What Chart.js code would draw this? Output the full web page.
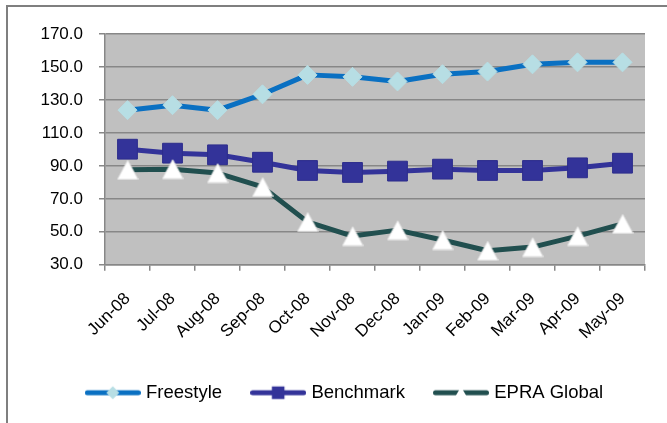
<!DOCTYPE html>
<html><head><meta charset="utf-8">
<script src="https://cdn.jsdelivr.net/npm/chart.js@4/dist/chart.umd.min.js"></script>
<style>html,body{margin:0;padding:0;background:#fff;overflow:hidden}</style>
</head><body>
<canvas id="c" width="667" height="423" style="display:block"></canvas>
<script>
const categories = ["Jun-08","Jul-08","Aug-08","Sep-08","Oct-08","Nov-08","Dec-08","Jan-09","Feb-09","Mar-09","Apr-09","May-09"];
const freestyle = [123.8, 126.8, 123.8, 133.4, 145.2, 144.0, 141.2, 145.6, 147.2, 151.6, 152.8, 152.8];
const benchmark = [100.1, 97.7, 96.7, 92.2, 87.2, 86.0, 86.8, 88.0, 87.2, 87.2, 88.8, 91.6];
const epraGlobal = [87.6, 88.0, 85.6, 77.2, 56.0, 47.4, 51.0, 45.0, 38.5, 40.7, 47.4, 54.8];
const seriesNames = ["Freestyle", "Benchmark", "EPRA Global"];
const yMin = 30, yMax = 170, yStep = 20;

const FONT = "'Liberation Sans', Arial, sans-serif";
const C_FREE = '#0a70c2', C_FREE_PT = '#b7dee4';
const C_BENCH = '#333399', C_BENCH_PT = '#333399';
const C_EPRA = '#214f4f';

function triangleImg(w, h, stroke) {
  const cv = document.createElement('canvas');
  cv.width = w + 2; cv.height = h + 2;
  const g = cv.getContext('2d');
  g.beginPath();
  g.moveTo(1 + w / 2, 1); g.lineTo(1 + w, 1 + h); g.lineTo(1, 1 + h); g.closePath();
  g.fillStyle = '#ffffff'; g.fill();
  if (stroke) { g.strokeStyle = stroke; g.lineWidth = 1; g.stroke(); }
  return cv;
}
const triPoint = triangleImg(20.5, 19, '#e2e2e2');

function legendImg(kind) {
  const w = 56, h = 22;
  const cv = document.createElement('canvas');
  cv.width = w; cv.height = h;
  const g = cv.getContext('2d');
  const cy = h / 2, cx = w / 2;
  g.lineCap = 'round';
  g.lineWidth = 5;
  g.strokeStyle = kind === 0 ? C_FREE : kind === 1 ? C_BENCH : C_EPRA;
  g.beginPath(); g.moveTo(2.5, cy); g.lineTo(w - 2.5, cy); g.stroke();
  g.beginPath();
  if (kind === 0) {
    const r = 6.5;
    g.moveTo(cx - r, cy); g.lineTo(cx, cy - r); g.lineTo(cx + r, cy); g.lineTo(cx, cy + r); g.closePath();
    g.fillStyle = C_FREE_PT; g.fill();
  } else if (kind === 1) {
    const s = 6.3;
    g.rect(cx - s, cy - s, 2 * s, 2 * s);
    g.fillStyle = C_BENCH_PT; g.fill();
  } else {
    const tw = 14, th = 12;
    g.moveTo(cx, cy - th / 2); g.lineTo(cx + tw / 2, cy + th / 2); g.lineTo(cx - tw / 2, cy + th / 2);
    g.closePath();
    g.fillStyle = '#ffffff'; g.fill();
  }
  return cv;
}
const legendImgs = [legendImg(0), legendImg(1), legendImg(2)];

const legendShift = 9.5;
const decor = {
  id: 'decor',
  afterLayout(chart) {
    if (chart.legend) { chart.legend.left += legendShift; chart.legend.right += legendShift; }
  },
  beforeDraw(chart) {
    const {ctx, chartArea: a} = chart;
    ctx.save();
    ctx.fillStyle = '#c0c0c0';
    ctx.fillRect(a.left, a.top, a.right - a.left, a.bottom - a.top);
    ctx.strokeStyle = '#7f7f7f';
    ctx.lineWidth = 2;
    ctx.beginPath();
    ctx.moveTo(7, 423); ctx.lineTo(7, 6); ctx.lineTo(667, 6);
    ctx.stroke();
    ctx.restore();
  }
};

const padL = 28, padR = 22;
new Chart(document.getElementById('c'), {
  type: 'line',
  data: {
    labels: categories,
    datasets: [
      { label: seriesNames[0], data: freestyle, order: 2,
        borderColor: C_FREE, borderWidth: 5, borderJoinStyle: 'round',
        pointStyle: 'rectRot', pointRadius: 9.5, pointBackgroundColor: C_FREE_PT, pointBorderColor: C_FREE_PT, pointBorderWidth: 1 },
      { label: seriesNames[1], data: benchmark, order: 1,
        borderColor: C_BENCH, borderWidth: 5, borderJoinStyle: 'round',
        pointStyle: 'rect', pointRadius: 14, pointBackgroundColor: C_BENCH_PT, pointBorderColor: '#2d2d8c', pointBorderWidth: 1 },
      { label: seriesNames[2], data: epraGlobal, order: 0,
        borderColor: C_EPRA, borderWidth: 5, borderJoinStyle: 'round',
        pointStyle: triPoint, pointRadius: 10 }
    ]
  },
  options: {
    responsive: false,
    animation: false,
    devicePixelRatio: 1,
    layout: { padding: { top: 34, right: padR, left: padL, bottom: 11 } },
    plugins: {
      tooltip: { enabled: false },
      legend: {
        position: 'bottom',
        labels: {
          usePointStyle: true,
          pointStyleWidth: 48,
          padding: 32,
          color: '#000',
          font: { family: FONT, size: 18.5 },
          generateLabels(chart) {
            return chart.data.datasets.map((ds, i) => ({
              text: ds.label, pointStyle: legendImgs[i], datasetIndex: i,
              fillStyle: 'transparent', strokeStyle: 'transparent', lineWidth: 0, hidden: false, fontColor: '#000'
            }));
          }
        }
      }
    },
    scales: {
      x: {
        type: 'category',
        offset: true,
        grid: { offset: true, drawOnChartArea: false, drawTicks: true, tickLength: 6, color: '#878787', lineWidth: 1.5 },
        border: { color: '#878787', width: 1.5 },
        ticks: { autoSkip: false, minRotation: 45, maxRotation: 45, color: '#000', font: { family: FONT, size: 17 }, padding: 18 },
        afterFit(s) { s.height = 86.75; }
      },
      y: {
        min: yMin, max: yMax,
        grid: { color: '#878787', lineWidth: 1.5, drawTicks: true, tickLength: 6 },
        border: { color: '#878787', width: 1.5 },
        ticks: { stepSize: yStep, color: '#000', font: { family: FONT, size: 17 }, padding: 16,
                 callback: v => Number(v).toFixed(1) },
        afterFit(s) { s.width = 105 - padL; }
      }
    }
  },
  plugins: [decor]
});
</script>
</body></html>
